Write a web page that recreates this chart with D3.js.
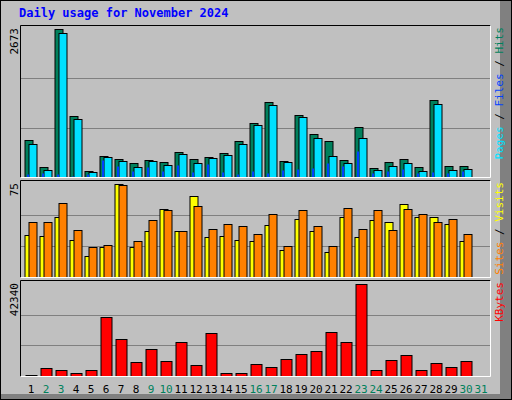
<!DOCTYPE html>
<html><head><meta charset="utf-8">
<script src="https://cdn.jsdelivr.net/npm/d3@7"></script>
<style>body{margin:0;background:#fff}</style></head>
<body><svg id="c" width="512" height="400"></svg>
<script>
const days = d3.range(1,32);
const weekend = [2,3,9,10,16,17,23,24,30,31];
const hits  = [664,181,2673,1099,109,380,326,248,308,272,453,326,362,434,652,972,1357,290,1122,778,652,308,905,163,272,326,181,1394,199,199];
const pages = [597,127,2601,1050,90,362,290,181,290,217,416,253,344,398,597,936,1303,272,1086,706,380,253,706,127,199,253,109,1321,127,145];
const files = [54,72,54,18,54,308,199,109,181,109,217,90,235,90,54,109,72,127,145,163,253,199,470,72,109,145,72,90,72,109];
const visits= [34,33,48,30,17,24,75,24,37,55,37,65,32,33,30,29,42,22,47,37,20,48,32,46,44,59,48,48,43,29];
const sites = [44,44,60,38,24,26,74,29,46,54,37,57,39,43,41,35,51,25,54,41,25,56,39,54,38,55,51,44,47,35];
const kbytes= [300,3695,2771,1386,2771,27097,16936,6312,12317,6774,15550,4927,19707,1386,1386,5389,4003,7698,10007,11393,20169,15550,42340,2771,7236,9546,2771,5850,4003,6774];
const maxTop=2673, maxMid=75, maxBot=42340;

const svg=d3.select("#c");
const font="DejaVu Sans Mono, monospace";
// frame
svg.append("rect").attr("x",0).attr("y",0).attr("width",512).attr("height",400).attr("fill","#c0c0c0");
svg.append("rect").attr("x",500).attr("y",0).attr("width",12).attr("height",400).attr("fill","#808080");
svg.append("rect").attr("x",0).attr("y",394).attr("width",512).attr("height",6).attr("fill","#808080");
svg.append("rect").attr("x",0.5).attr("y",0.5).attr("width",511).attr("height",399).attr("fill","none").attr("stroke","#000");
svg.append("text").attr("x",19).attr("y",17).attr("font-family",font).attr("font-weight","bold").attr("font-size",12).attr("fill","#0000ff").text("Daily usage for November 2024");

const x=d3.scaleLinear().domain([1,32]).range([25,490]);
function panel(y0,y1,max,label,series,rightLabels){
  const y=d3.scaleLinear().domain([0,max]).range([y1,y0+4]);
  const g=svg.append("g");
  [1/3,2/3].forEach(f=>g.append("line").attr("x1",20).attr("x2",490).attr("y1",Math.round(y(max*f))+0.5).attr("y2",Math.round(y(max*f))+0.5).attr("stroke","#808080"));
  series.forEach(s=>{
    g.selectAll(null).data(s.data).enter().append("rect")
      .attr("x",(d,i)=>x(i+1)+s.o).attr("width",s.w)
      .attr("y",d=>Math.round(y(d))+0.5).attr("height",d=>Math.max(0,y1-Math.round(y(d))))
      .attr("fill",s.c).attr("stroke","#000").attr("stroke-width",s.sw===undefined?1:s.sw);
  });
  g.append("path").attr("d",`M20.5,${y1+0.5}V${y0+0.5}H490.5`).attr("fill","none").attr("stroke","#000");
  g.append("path").attr("d",`M20.5,${y1+0.5}H490.5V${y0+0.5}`).attr("fill","none").attr("stroke","#fff");
  g.append("text").attr("transform",`translate(18,${y0+3}) rotate(-90)`).attr("text-anchor","end")
    .attr("font-family",font).attr("font-size",11).attr("fill","#000").text(label);
  const t=g.append("text").attr("transform",`translate(503,${y0+2}) rotate(-90)`).attr("text-anchor","end")
    .attr("font-family",font).attr("font-size",11);
  rightLabels.forEach((r,i)=>{ if(i) t.append("tspan").attr("fill","#000").text(" / "); t.append("tspan").attr("fill",r[1]).text(r[0]); });
}
panel(25,177,maxTop,"2673",[
  {data:hits,o:0,w:8,c:"#00805c"},
  {data:pages,o:4,w:8,c:"#00e0ff"},
  {data:files,o:2,w:2,c:"#0040ff",sw:0}
],[["Pages","#00e0ff"],["Files","#0040ff"],["Hits","#00805c"]]);
panel(180,277,maxMid,"75",[
  {data:visits,o:0,w:8,c:"#ffff00"},
  {data:sites,o:4,w:8,c:"#ff8000"}
],[["Sites","#ff8000"],["Visits","#ffff00"]]);
panel(280,376,maxBot,"42340",[
  {data:kbytes,o:1,w:11,c:"#ff0000"}
],[["KBytes","#ff0000"]]);
svg.selectAll(".dl").data(days).enter().append("text")
  .attr("x",d=>x(d)+6).attr("y",393).attr("text-anchor","middle")
  .attr("font-family",font).attr("font-size",11)
  .attr("fill",d=>weekend.includes(d)?"#00805c":"#000").text(d=>d);
</script></body></html>
